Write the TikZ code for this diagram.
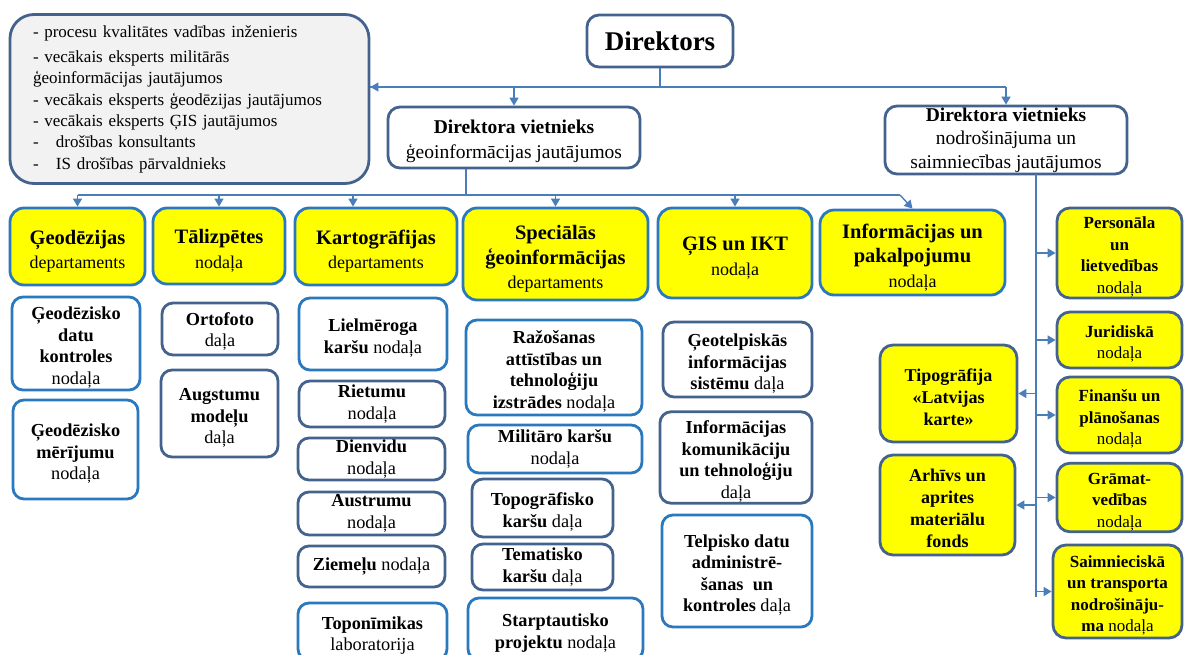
\documentclass[tikz,border=0pt]{standalone}
\usepackage{fontspec}
\setmainfont{LiberationSerif}[Extension=.ttf, UprightFont=*-Regular, BoldFont=*-Bold, ItalicFont=*-Italic, BoldItalicFont=*-BoldItalic]
\usetikzlibrary{arrows.meta}
\definecolor{bblue}{HTML}{2A78BE}
\definecolor{sblue}{HTML}{44628E}
\definecolor{lblue}{HTML}{4A7EBB}
\definecolor{yel}{HTML}{FFFF00}
\definecolor{lgray}{HTML}{F2F2F2}
\newcommand\rg[1]{{\fontsize{18}{24.5}\selectfont\mdseries #1}}
\newcommand\fsa{\rule{0pt}{21pt}}
\newcommand\fsb{\rule{0pt}{18pt}}
\newcommand\fsh{\rule{0pt}{24pt}}
\newcommand\fsr{\rule{0pt}{20pt}}
\newcommand\fsm{\rule{0pt}{22pt}}
\begin{document}
\begin{tikzpicture}[x=1pt,y=-1pt,
  wh/.style 2 args={minimum width=#1pt,minimum height=#2pt},
  box/.style={line width=2.8pt, rounded corners=11pt, align=center, inner sep=1pt, fill=white},
  bb/.style={box, draw=bblue, font=\fontsize{18.3}{21.5}\selectfont},
  sb/.style={box, draw=sblue, font=\fontsize{18.3}{21.5}\selectfont},
  hdr/.style={box, draw=bblue, fill=yel, rounded corners=14pt, font=\fontsize{20.5}{24.5}\selectfont\bfseries},
  rc/.style={box, draw=sblue, fill=yel, rounded corners=13pt, font=\fontsize{17}{21.5}\selectfont},
  mid/.style={box, draw=sblue, rounded corners=12pt, font=\fontsize{19.5}{24}\selectfont},
  conn/.style={draw=lblue, line width=1.6pt},
  arr/.style={conn, -{Triangle[length=8pt,width=9pt]}},
]
\useasboundingbox (0,0) rectangle (1184,654);

% top level
\node[box, draw=sblue, fill=lgray, rounded corners=24pt, wh={359}{169}, align=left,
      text width=313pt, inner xsep=23pt,
      font=\fontsize{17}{21.3}\selectfont] (tl) at (189.5,99)
  {- procesu kvalitātes vadības inženieris\\[4pt]
   - vecākais eksperts militārās\\
   ģeoinformācijas jautājumos\\
   - vecākais eksperts ģeodēzijas jautājumos\\
   - vecākais eksperts ĢIS jautājumos\\
   \makebox[23pt][l]{-}drošības konsultants\\
   \makebox[23pt][l]{-}IS drošības pārvaldnieks};
\node[box, draw=sblue, rounded corners=12pt, wh={146}{52}, font=\fontsize{27}{30}\selectfont\bfseries] (dir) at (660,41) {Direktors};
\node[mid, wh={252}{61}, font=\fontsize{19.5}{25}\selectfont] (dep1) at (514,137.5) {\fsm\textbf{Direktora vietnieks}\\ ģeoinformācijas jautājumos};
\node[mid, wh={242}{68}, font=\fontsize{19.5}{23.5}\selectfont] (dep2) at (1006,140) {\textbf{Direktora vietnieks}\\ nodrošinājuma un\\ saimniecības jautājumos};

% headers
\node[hdr, wh={135}{77}] (geo) at (77.5,246.5) {\fsh Ģeodēzijas\\ \rg{departaments}};
\node[hdr, wh={132}{76}] (tal) at (219,246) {\fsh Tālizpētes\\ \rg{nodaļa}};
\node[hdr, wh={162}{77}] (kar) at (376,246.5) {\fsh Kartogrāfijas\\ \rg{departaments}};
\node[hdr, wh={185}{92}] (spe) at (555.5,254) {\fsh Speciālās\\ ģeoinformācijas\\ \rg{departaments}};
\node[hdr, wh={154}{90}] (gis) at (735,253) {\fsh ĢIS un IKT\\ \rg{nodaļa}};
\node[hdr, wh={185}{85}] (inf) at (912.5,252.5) {\fsh Informācijas un\\ pakalpojumu\\ \rg{nodaļa}};

% Geodezijas
\node[bb, wh={128}{93}] (gdk) at (76,343.5) {\fsa\textbf{Ģeodēzisko}\\ \textbf{datu}\\ \textbf{kontroles}\\ nodaļa};
\node[bb, wh={125}{99}] (gm) at (75.5,449.5) {\fsa\textbf{Ģeodēzisko}\\ \textbf{mērījumu}\\ nodaļa};
% Talizpetes
\node[sb, wh={116}{52}] (orto) at (220,329) {\fsb\textbf{Ortofoto}\\ daļa};
\node[sb, wh={117}{87}] (aug) at (219.5,413.5) {\fsa\textbf{Augstumu}\\ \textbf{modeļu}\\ daļa};
% Kartografijas
\node[bb, wh={148}{72}] (liel) at (373,334) {\fsa\textbf{Lielmēroga}\\ \textbf{karšu} nodaļa};
\node[sb, wh={146}{46}] (riet) at (372,404) {\textbf{Rietumu}\\ nodaļa};
\node[sb, wh={147}{42}] (dien) at (371.5,459) {\textbf{Dienvidu}\\ nodaļa};
\node[sb, wh={147}{43}] (aust) at (371.5,513.5) {\textbf{Austrumu}\\ nodaļa};
\node[sb, wh={147}{41}] (ziem) at (371.5,566.5) {\textbf{Ziemeļu} nodaļa};
\node[bb, wh={149}{57}] (topo) at (372.5,631.5) {\fsa\textbf{Toponīmikas}\\ laboratorija};
% Specialas
\node[bb, wh={176}{95}] (raz) at (554,367.5) {\fsa\textbf{Ražošanas}\\ \textbf{attīstības un}\\ \textbf{tehnoloģiju}\\ \textbf{izstrādes} nodaļa};
\node[bb, wh={174}{48}] (mil) at (555,449) {\textbf{Militāro karšu}\\ nodaļa};
\node[sb, wh={141}{58}] (topg) at (542.5,508) {\fsa\textbf{Topogrāfisko}\\ \textbf{karšu} daļa};
\node[sb, wh={141}{46}] (tem) at (542.5,567) {\textbf{Tematisko}\\ \textbf{karšu} daļa};
\node[bb, wh={175}{62}] (star) at (555.5,629) {\fsa\textbf{Starptautisko}\\ \textbf{projektu} nodaļa};
% GIS
\node[sb, wh={149}{75}] (geot) at (737.5,359.5) {\fsa\textbf{Ģeotelpiskās}\\ \textbf{informācijas}\\ \textbf{sistēmu} daļa};
\node[sb, wh={152}{91}] (ikt) at (736,457.5) {\fsa\textbf{Informācijas}\\ \textbf{komunikāciju}\\ \textbf{un tehnoloģiju}\\ daļa};
\node[bb, wh={150}{112}] (telp) at (737,571) {\fsa\textbf{Telpisko datu}\\ \textbf{administrē-}\\ \textbf{šanas~ un}\\ \textbf{kontroles} daļa};

% right column
\node[rc, wh={125}{90}] (pers) at (1119.5,253) {\fsr\textbf{Personāla}\\ \textbf{un}\\ \textbf{lietvedības}\\ nodaļa};
\node[rc, wh={125}{56}] (jur) at (1119.5,340) {\fsr\textbf{Juridiskā}\\ nodaļa};
\node[rc, wh={125}{76}] (fin) at (1119.5,415) {\fsr\textbf{Finanšu un}\\ \textbf{plānošanas}\\ nodaļa};
\node[rc, wh={125}{65}] (gram) at (1119.5,497.5) {\fsr\textbf{Grāmat-}\\ \textbf{vedības}\\ nodaļa};
\node[rc, wh={129}{93}] (saim) at (1117.5,591.5) {\fsr\textbf{Saimnieciskā}\\ \textbf{un transporta}\\ \textbf{nodrošināju-}\\ \textbf{ma} nodaļa};
\node[rc, wh={137}{97}, font=\fontsize{18}{22}\selectfont] (tipo) at (948.5,393.5) {\fsr\textbf{Tipogrāfija}\\ \textbf{«Latvijas}\\ \textbf{karte»}};
\node[rc, wh={135}{100}, font=\fontsize{18}{22}\selectfont] (arh) at (947.5,505) {\fsr\textbf{Arhīvs un}\\ \textbf{aprites}\\ \textbf{materiālu}\\ \textbf{fonds}};

% connectors: director
\coordinate (b1) at (660,87);
\draw[conn, line width=2.6pt] (dir.south) -- (b1);
\draw[conn, line width=2pt] (tl.east |- b1) -- (dep2.north |- b1);
\draw[arr] (b1) -- (tl.east |- b1);
\draw[arr] (dep1.north |- b1) -- (dep1.north);
\draw[arr] (dep2.north |- b1) -- (dep2.north);

% connectors: deputy 1
\coordinate (d1s) at (466,195);
\coordinate (b2e) at (900,195);
\coordinate (kin) at (353,195);
\draw[conn, line width=1.4pt] (d1s |- dep1.south) -- (d1s);
\draw[conn, line width=1.4pt] (geo.north |- b2e) -- (b2e);
\draw[arr, line width=1.4pt] (geo.north |- b2e) -- (geo.north);
\draw[arr, line width=1.4pt] (tal.north |- b2e) -- (tal.north);
\draw[arr, line width=1.4pt] (kin) -- (kin |- kar.north);
\draw[arr, line width=1.4pt] (spe.north |- b2e) -- (spe.north);
\draw[arr, line width=1.4pt] (gis.north |- b2e) -- (gis.north);
\draw[arr, line width=1.4pt] (b2e) -- (inf.north);

% connectors: deputy 2
\coordinate (d2t) at (1036,174);
\coordinate (d2b) at (1036,597);
\draw[conn] (d2t) -- (d2b);
\draw[arr] (d2t |- pers.west) -- (pers.west);
\draw[arr] (d2t |- jur.west) -- (jur.west);
\draw[arr] (d2t |- fin.west) -- (fin.west);
\draw[arr] (d2t |- gram.west) -- (gram.west);
\draw[arr] (d2t |- saim.west) -- (saim.west);
\draw[arr] (d2t |- tipo.east) -- (tipo.east);
\draw[arr] (d2t |- arh.east) -- (arh.east);
\end{tikzpicture}
\end{document}
